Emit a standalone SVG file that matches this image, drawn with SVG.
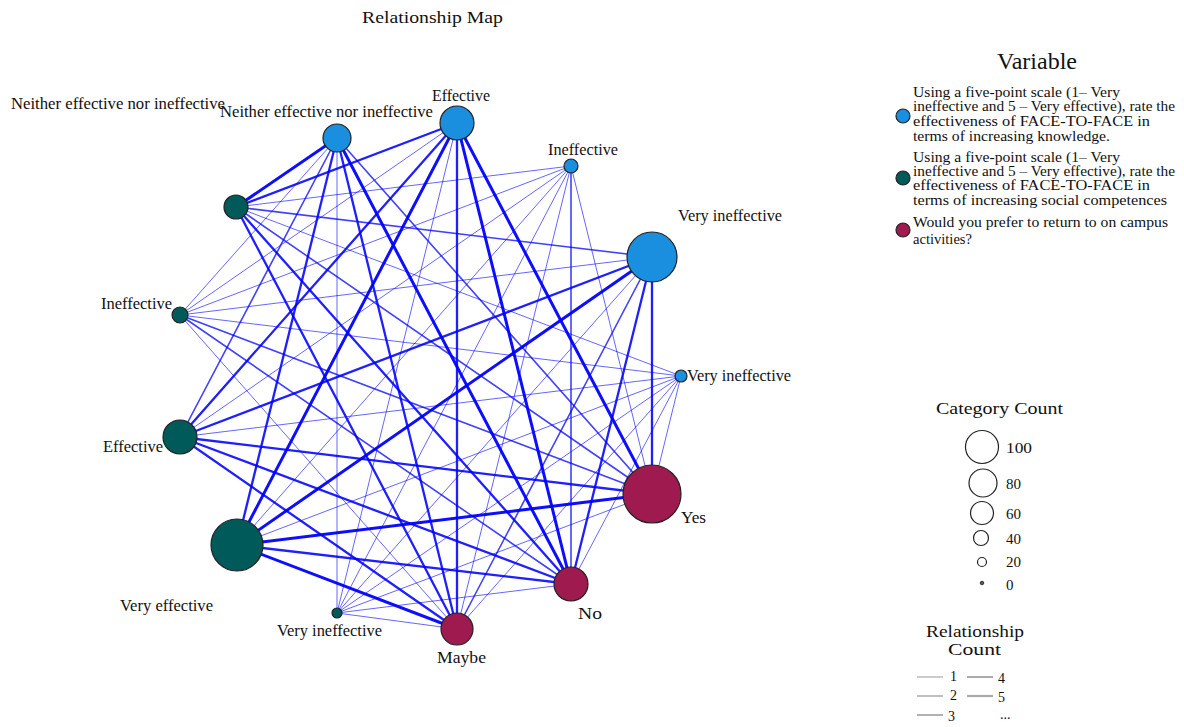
<svg xmlns="http://www.w3.org/2000/svg" width="1184" height="727" viewBox="0 0 1184 727">
<style>
text{font-family:"Liberation Serif","Times New Roman",serif;fill:#111;}
.lbl{font-size:16px;}
.leg{font-size:14px;}
.num{font-size:15px;}
.edges line{stroke:#0000ff;stroke-linecap:round;}
.e1{stroke-width:1;stroke-opacity:0.6;}
.e2{stroke-width:1.6;stroke-opacity:0.75;}
.e3{stroke-width:2.3;stroke-opacity:0.88;}
.e4{stroke-width:3;stroke-opacity:0.95;}
.nb{fill:#1a8fe0;stroke:#222;stroke-width:1.2;}
.nt{fill:#005a5a;stroke:#222;stroke-width:1.2;}
.nm{fill:#9e1a4f;stroke:#222;stroke-width:1.2;}
.cc{fill:none;stroke:#222;stroke-width:1.2;}
.rl{stroke:#aaa;}
</style>
<rect width="1184" height="727" fill="#fff"/>
<text x="362" y="23" font-size="17" textLength="141" lengthAdjust="spacingAndGlyphs">Relationship Map</text>

<g id="connectors" class="edges">
<!-- blue x teal -->
<line class="e4" x1="337" y1="138" x2="236" y2="207"/>
<line class="e1" x1="337" y1="138" x2="180" y2="315"/>
<line class="e2" x1="337" y1="138" x2="180" y2="437"/>
<line class="e3" x1="337" y1="138" x2="237" y2="545"/>
<line class="e1" x1="337" y1="138" x2="337" y2="613"/>
<line class="e3" x1="457" y1="123" x2="236" y2="207"/>
<line class="e1" x1="457" y1="123" x2="180" y2="315"/>
<line class="e3" x1="457" y1="123" x2="180" y2="437"/>
<line class="e4" x1="457" y1="123" x2="237" y2="545"/>
<line class="e1" x1="457" y1="123" x2="337" y2="613"/>
<line class="e1" x1="571" y1="166" x2="236" y2="207"/>
<line class="e1" x1="571" y1="166" x2="180" y2="315"/>
<line class="e1" x1="571" y1="166" x2="180" y2="437"/>
<line class="e1" x1="571" y1="166" x2="237" y2="545"/>
<line class="e1" x1="571" y1="166" x2="337" y2="613"/>
<line class="e2" x1="652" y1="257" x2="236" y2="207"/>
<line class="e1" x1="652" y1="257" x2="180" y2="315"/>
<line class="e3" x1="652" y1="257" x2="180" y2="437"/>
<line class="e4" x1="652" y1="257" x2="237" y2="545"/>
<line class="e1" x1="652" y1="257" x2="337" y2="613"/>
<line class="e1" x1="681" y1="376" x2="236" y2="207"/>
<line class="e1" x1="681" y1="376" x2="180" y2="315"/>
<line class="e1" x1="681" y1="376" x2="180" y2="437"/>
<line class="e1" x1="681" y1="376" x2="237" y2="545"/>
<line class="e1" x1="681" y1="376" x2="337" y2="613"/>
<!-- blue x magenta -->
<line class="e2" x1="337" y1="138" x2="652" y2="494"/>
<line class="e4" x1="337" y1="138" x2="571" y2="584"/>
<line class="e3" x1="337" y1="138" x2="457" y2="629"/>
<line class="e4" x1="457" y1="123" x2="652" y2="494"/>
<line class="e4" x1="457" y1="123" x2="571" y2="584"/>
<line class="e3" x1="457" y1="123" x2="457" y2="629"/>
<line class="e1" x1="571" y1="166" x2="652" y2="494"/>
<line class="e2" x1="571" y1="166" x2="571" y2="584"/>
<line class="e1" x1="571" y1="166" x2="457" y2="629"/>
<line class="e3" x1="652" y1="257" x2="652" y2="494"/>
<line class="e3" x1="652" y1="257" x2="571" y2="584"/>
<line class="e2" x1="652" y1="257" x2="457" y2="629"/>
<line class="e1" x1="681" y1="376" x2="652" y2="494"/>
<line class="e1" x1="681" y1="376" x2="571" y2="584"/>
<line class="e1" x1="681" y1="376" x2="457" y2="629"/>
<!-- teal x magenta -->
<line class="e2" x1="236" y1="207" x2="652" y2="494"/>
<line class="e3" x1="236" y1="207" x2="571" y2="584"/>
<line class="e3" x1="236" y1="207" x2="457" y2="629"/>
<line class="e2" x1="180" y1="315" x2="652" y2="494"/>
<line class="e2" x1="180" y1="315" x2="571" y2="584"/>
<line class="e1" x1="180" y1="315" x2="457" y2="629"/>
<line class="e3" x1="180" y1="437" x2="652" y2="494"/>
<line class="e3" x1="180" y1="437" x2="571" y2="584"/>
<line class="e3" x1="180" y1="437" x2="457" y2="629"/>
<line class="e4" x1="237" y1="545" x2="652" y2="494"/>
<line class="e3" x1="237" y1="545" x2="571" y2="584"/>
<line class="e4" x1="237" y1="545" x2="457" y2="629"/>
<line class="e1" x1="337" y1="613" x2="652" y2="494"/>
<line class="e1" x1="337" y1="613" x2="571" y2="584"/>
<line class="e1" x1="337" y1="613" x2="457" y2="629"/>
</g>

<g id="node-b-neither"><circle class="nb" cx="337" cy="138" r="14"/><text class="lbl" x="220" y="117" textLength="213" lengthAdjust="spacingAndGlyphs">Neither effective nor ineffective</text></g>
<g id="node-b-effective"><circle class="nb" cx="457" cy="123" r="17"/><text class="lbl" x="432" y="101" textLength="58" lengthAdjust="spacingAndGlyphs">Effective</text></g>
<g id="node-b-ineffective"><circle class="nb" cx="571" cy="166" r="7"/><text class="lbl" x="548" y="155" textLength="70" lengthAdjust="spacingAndGlyphs">Ineffective</text></g>
<g id="node-b-veryineff1"><circle class="nb" cx="652" cy="257" r="25"/><text class="lbl" x="678" y="221" textLength="104" lengthAdjust="spacingAndGlyphs">Very ineffective</text></g>
<g id="node-b-veryineff2"><circle class="nb" cx="681" cy="376" r="6"/><text class="lbl" x="687" y="381" textLength="104" lengthAdjust="spacingAndGlyphs">Very ineffective</text></g>

<g id="node-t-neither"><circle class="nt" cx="236" cy="207" r="12"/><text class="lbl" x="11" y="109" textLength="214" lengthAdjust="spacingAndGlyphs">Neither effective nor ineffective</text></g>
<g id="node-t-ineffective"><circle class="nt" cx="180" cy="315" r="8"/><text class="lbl" x="101" y="309" textLength="71" lengthAdjust="spacingAndGlyphs">Ineffective</text></g>
<g id="node-t-effective"><circle class="nt" cx="180" cy="437" r="17"/><text class="lbl" x="103" y="452" textLength="60" lengthAdjust="spacingAndGlyphs">Effective</text></g>
<g id="node-t-veryeffective"><circle class="nt" cx="237" cy="545" r="26"/><text class="lbl" x="120" y="611" textLength="93" lengthAdjust="spacingAndGlyphs">Very effective</text></g>
<g id="node-t-veryineff"><circle class="nt" cx="337" cy="613" r="5"/><text class="lbl" x="277" y="636" textLength="105" lengthAdjust="spacingAndGlyphs">Very ineffective</text></g>

<g id="node-m-yes"><circle class="nm" cx="652" cy="494" r="29"/><text class="lbl" x="681" y="523" textLength="25" lengthAdjust="spacingAndGlyphs">Yes</text></g>
<g id="node-m-no"><circle class="nm" cx="571" cy="584" r="17"/><text class="lbl" x="578" y="619" textLength="24" lengthAdjust="spacingAndGlyphs">No</text></g>
<g id="node-m-maybe"><circle class="nm" cx="457" cy="629" r="16"/><text class="lbl" x="437" y="663" textLength="49" lengthAdjust="spacingAndGlyphs">Maybe</text></g>

<g id="legend-variable">
<text x="997" y="69" font-size="23" textLength="80" lengthAdjust="spacingAndGlyphs">Variable</text>
<circle class="nb" cx="903" cy="116" r="7"/>
<text class="leg" x="913" y="97" textLength="207" lengthAdjust="spacingAndGlyphs">Using a five-point scale (1– Very</text>
<text class="leg" x="913" y="111" textLength="262" lengthAdjust="spacingAndGlyphs">ineffective and 5 – Very effective), rate the</text>
<text class="leg" x="913" y="126" textLength="237" lengthAdjust="spacingAndGlyphs">effectiveness of FACE-TO-FACE in</text>
<text class="leg" x="913" y="141" textLength="197" lengthAdjust="spacingAndGlyphs">terms of increasing knowledge.</text>
<circle class="nt" cx="903" cy="178" r="7"/>
<text class="leg" x="913" y="162" textLength="207" lengthAdjust="spacingAndGlyphs">Using a five-point scale (1– Very</text>
<text class="leg" x="913" y="176" textLength="262" lengthAdjust="spacingAndGlyphs">ineffective and 5 – Very effective), rate the</text>
<text class="leg" x="913" y="190" textLength="237" lengthAdjust="spacingAndGlyphs">effectiveness of FACE-TO-FACE in</text>
<text class="leg" x="913" y="205" textLength="254" lengthAdjust="spacingAndGlyphs">terms of increasing social competences</text>
<circle class="nm" cx="903" cy="230" r="7"/>
<text class="leg" x="913" y="227" textLength="255" lengthAdjust="spacingAndGlyphs">Would you prefer to return to on campus</text>
<text class="leg" x="913" y="244" textLength="59" lengthAdjust="spacingAndGlyphs">activities?</text>
</g>

<g id="legend-category">
<text x="936" y="414" font-size="17" textLength="127" lengthAdjust="spacingAndGlyphs">Category Count</text>
<circle class="cc" cx="982" cy="447" r="16.5"/><text class="num" x="1006" y="453" textLength="26" lengthAdjust="spacingAndGlyphs">100</text>
<circle class="cc" cx="983" cy="483" r="14"/><text class="num" x="1006" y="489">80</text>
<circle class="cc" cx="982" cy="513" r="11.5"/><text class="num" x="1006" y="519">60</text>
<circle class="cc" cx="981" cy="538" r="7.5"/><text class="num" x="1006" y="544">40</text>
<circle class="cc" cx="982" cy="562" r="4.5"/><text class="num" x="1006" y="567">20</text>
<circle cx="982" cy="583" r="1.8" fill="#555" stroke="#222" stroke-width="0.8"/><text class="num" x="1006" y="590">0</text>
</g>

<g id="legend-relationship">
<text x="926" y="637" font-size="17" textLength="98" lengthAdjust="spacingAndGlyphs">Relationship</text>
<text x="948" y="655" font-size="17" textLength="53" lengthAdjust="spacingAndGlyphs">Count</text>
<line class="rl" x1="917" y1="677" x2="943" y2="677" stroke-width="1.2"/><text class="leg" x="950" y="681">1</text>
<line class="rl" x1="917" y1="696" x2="943" y2="696" stroke-width="1.5"/><text class="leg" x="950" y="700">2</text>
<line class="rl" x1="917" y1="715" x2="943" y2="715" stroke-width="1.8" stroke="#999"/><text class="leg" x="948" y="721">3</text>
<line class="rl" x1="967" y1="677" x2="993" y2="677" stroke-width="2" stroke="#999"/><text class="leg" x="998" y="683">4</text>
<line class="rl" x1="967" y1="696" x2="993" y2="696" stroke-width="2.2" stroke="#999"/><text class="leg" x="998" y="702">5</text>
<text class="leg" x="1000" y="719">...</text>
</g>
</svg>
